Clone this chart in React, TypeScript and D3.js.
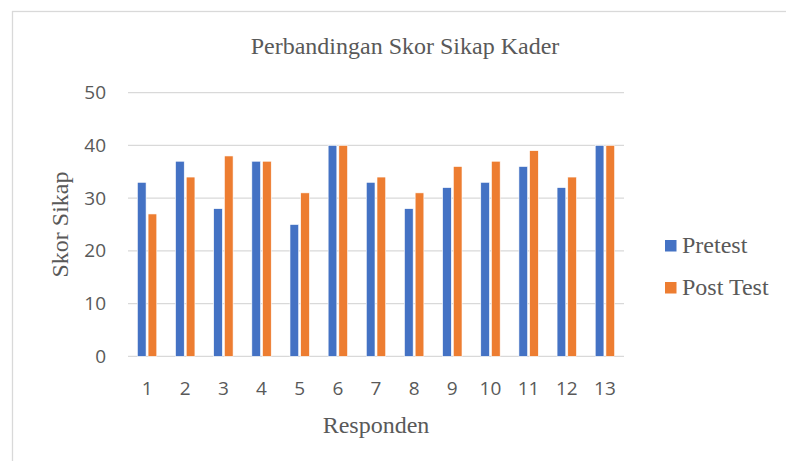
import * as d3 from 'd3'
import React, { useEffect, useRef } from 'react'

const responden = ['1', '2', '3', '4', '5', '6', '7', '8', '9', '10', '11', '12', '13']
const pretest = [33, 37, 28, 37, 25, 40, 33, 28, 32, 33, 36, 32, 40]
const postTest = [27, 34, 38, 37, 31, 40, 34, 31, 36, 37, 39, 34, 40]
const seriesNames = ['Pretest', 'Post Test']
const yTicks = [0, 10, 20, 30, 40, 50]

const width = 786
const height = 461
const colors = ['#4472C4', '#ED7D31']
const textColor = '#595959'
const serif = '"Liberation Serif", "Times New Roman", serif'
const sans = '"Open Sans", sans-serif'

const App: React.FC = () => {
  const ref = useRef<SVGSVGElement>(null)

  useEffect(() => {
    const svg = d3.select(ref.current)
    svg.selectAll('*').remove()

    const margin = { top: 92.7, right: 162, bottom: 104.7, left: 128 }
    const innerW = width - margin.left - margin.right
    const innerH = height - margin.top - margin.bottom

    // chart border (right/bottom edges fall outside the picture)
    svg
      .append('rect')
      .attr('x', 12.5)
      .attr('y', 11.5)
      .attr('width', 786)
      .attr('height', 470)
      .attr('fill', '#fff')
      .attr('stroke', '#d9d9d9')
      .attr('stroke-width', 1.3)

    const g = svg.append('g').attr('transform', `translate(${margin.left},${margin.top})`)

    const x0 = d3.scaleBand().domain(responden).range([0, innerW]).padding(0)
    const x1 = d3
      .scaleBand()
      .domain(seriesNames)
      .range([0, x0.bandwidth()])
      .paddingInner(0.187)
      .paddingOuter(0.876)
    const y = d3.scaleLinear().domain([0, 50]).range([innerH, 0])

    // gridlines
    g.selectAll('.grid')
      .data(yTicks)
      .enter()
      .append('line')
      .attr('x1', 0)
      .attr('x2', innerW)
      .attr('y1', (d) => y(d))
      .attr('y2', (d) => y(d))
      .attr('stroke', '#d9d9d9')
      .attr('stroke-width', 1.3)

    // y tick labels
    g.selectAll('.ylab')
      .data(yTicks)
      .enter()
      .append('text')
      .attr('x', -22)
      .attr('y', (d) => y(d))
      .attr('dy', '0.35em')
      .attr('text-anchor', 'end')
      .attr('font-family', sans)
      .attr('font-size', 19)
      .attr('fill', textColor)
      .text((d) => d)

    const data = responden.map((r, i) => ({ r, values: [pretest[i], postTest[i]] }))

    const groups = g
      .selectAll('.grp')
      .data(data)
      .enter()
      .append('g')
      .attr('transform', (d) => `translate(${x0(d.r)},0)`)

    groups
      .selectAll('rect')
      .data((d) => d.values.map((v, k) => ({ key: seriesNames[k], v, k })))
      .enter()
      .append('rect')
      .attr('x', (d) => x1(d.key) || 0)
      .attr('width', x1.bandwidth())
      .attr('y', (d) => y(d.v))
      .attr('height', (d) => innerH - y(d.v))
      .attr('fill', (d) => colors[d.k])
      .attr('stroke', '#fff')
      .attr('stroke-width', 0.6)

    // x tick labels
    g.selectAll('.xlab')
      .data(responden)
      .enter()
      .append('text')
      .attr('x', (d) => (x0(d) || 0) + x0.bandwidth() / 2)
      .attr('y', innerH + 38.7)
      .attr('text-anchor', 'middle')
      .attr('font-family', sans)
      .attr('font-size', 19)
      .attr('fill', textColor)
      .text((d) => d)

    // title
    svg
      .append('text')
      .attr('x', 405)
      .attr('y', 54.3)
      .attr('text-anchor', 'middle')
      .attr('font-family', serif)
      .attr('font-size', 24)
      .attr('fill', textColor)
      .text('Perbandingan Skor Sikap Kader')

    // axis titles
    svg
      .append('text')
      .attr('x', margin.left + innerW / 2)
      .attr('y', 433)
      .attr('text-anchor', 'middle')
      .attr('font-family', serif)
      .attr('font-size', 24)
      .attr('fill', textColor)
      .text('Responden')

    svg
      .append('text')
      .attr('transform', `translate(68,${margin.top + innerH / 2}) rotate(-90)`)
      .attr('text-anchor', 'middle')
      .attr('font-family', serif)
      .attr('font-size', 24)
      .attr('fill', textColor)
      .text('Skor Sikap')

    // legend
    const legend = svg
      .selectAll('.leg')
      .data(seriesNames)
      .enter()
      .append('g')
      .attr('transform', (d, i) => `translate(665,${240 + i * 42})`)

    legend
      .append('rect')
      .attr('width', 11.5)
      .attr('height', 11.5)
      .attr('fill', (d, i) => colors[i])

    legend
      .append('text')
      .attr('x', 17)
      .attr('y', 13)
      .attr('font-family', serif)
      .attr('font-size', 24)
      .attr('fill', textColor)
      .text((d) => d)
  }, [])

  return (
    <svg
      ref={ref}
      width={width}
      height={height}
      style={{ position: 'absolute', left: 0, top: 0, background: '#fff' }}
    />
  )
}

export default App
